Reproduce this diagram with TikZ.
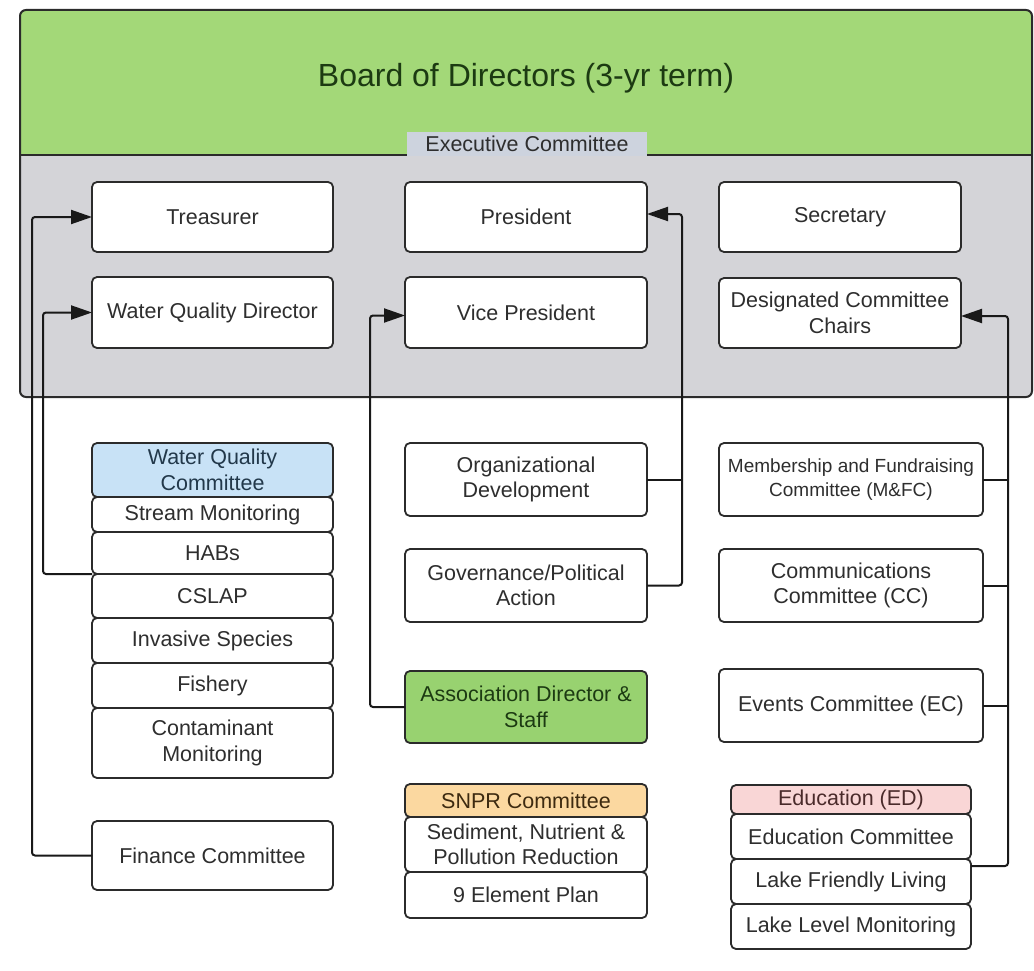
\documentclass[tikz,border=0pt]{standalone}
\usepackage{fontspec}
\setmainfont{Liberation Sans}
\usetikzlibrary{arrows.meta,calc}
\definecolor{boardgreen}{HTML}{A3D878}
\definecolor{adngreen}{HTML}{98D270}
\definecolor{execgray}{HTML}{D4D4D8}
\definecolor{execlabel}{HTML}{CDD3DE}
\definecolor{linecol}{HTML}{2B2B2B}
\definecolor{txt}{HTML}{2E2E2E}
\definecolor{dkgreen}{HTML}{1C3A12}
\definecolor{wqblue}{HTML}{C8E2F6}
\definecolor{wqtxt}{HTML}{22384A}
\definecolor{snprorange}{HTML}{FBD8A0}
\definecolor{snprtxt}{HTML}{3D2A10}
\definecolor{edpink}{HTML}{F9D6D6}
\definecolor{edtxt}{HTML}{4A2A2A}
\begin{document}
\begin{tikzpicture}[x=1pt,y=-1pt,
  box/.style={draw=linecol, line width=1.8pt, rounded corners=5pt, fill=white, align=center,
    text=txt, font=\fontsize{21.5}{25.5}\selectfont, inner sep=0pt, outer sep=0pt},
  col1/.style={box, minimum width=241pt},
  col2/.style={box, minimum width=242pt},
  col3/.style={box, minimum width=264pt},
  conn/.style={draw=black!90, line width=2pt, rounded corners=3pt, -{Triangle[length=21pt,width=14pt]}},
  link/.style={draw=black!90, line width=2pt},
]
\useasboundingbox (0,0) rectangle (1034,971);
\fill[white] (0,0) rectangle (1034,971);

% board container
\fill[boardgreen, rounded corners=6pt] (20,10) rectangle (1032,397);
\fill[execgray] (20,155) rectangle (1032,380);
\fill[execgray, rounded corners=6pt] (20,360) rectangle (1032,397);
\draw[linecol, line width=2pt, rounded corners=6pt] (20,10) rectangle (1032,397);
\draw[linecol, line width=2pt] (20,155) -- (407,155);
\draw[linecol, line width=2pt] (647,155) -- (1032,155);
\node[fill=execlabel, minimum width=240pt, minimum height=24pt, inner sep=0pt, text=txt,
  font=\fontsize{21.5}{25.5}\selectfont] (exec) at (527,144) {Executive Committee};
\node[text=dkgreen, font=\fontsize{32}{38}\selectfont, inner sep=0pt] (board) at (526,78) {Board of Directors (3-yr term)};

% executive members
\node[col1, minimum height=70pt] (treas) at (212.5,217) {Treasurer};
\node[col1, minimum height=71pt] (wqd) at (212.5,312.5) {Water Quality Director};
\node[col2, minimum height=70pt] (pres) at (526,217) {President};
\node[col2, minimum height=71pt] (vp) at (526,312.5) {Vice President};
\node[col2, minimum height=70pt] (sec) at (840,217) {Secretary};
\node[col2, minimum height=70pt] (dcc) at (840,313) {Designated Committee\\Chairs};

% water quality stack
\node[col1, minimum height=54pt, fill=wqblue, text=wqtxt] (wqh) at (212.5,470) {Water Quality\\Committee};
\node[col1, minimum height=35pt] (sm) at (212.5,514.5) {Stream Monitoring};
\node[col1, minimum height=42pt] (habs) at (212.5,553) {HABs};
\node[col1, minimum height=44pt] (cslap) at (212.5,596) {CSLAP};
\node[col1, minimum height=45pt] (inv) at (212.5,640.5) {Invasive Species};
\node[col1, minimum height=45pt] (fish) at (212.5,685.5) {Fishery};
\node[col1, minimum height=70pt] (cont) at (212.5,743) {Contaminant\\Monitoring};
\node[col1, minimum height=69pt] (fin) at (212.5,855.5) {Finance Committee};

% middle column
\node[col2, minimum height=73pt] (od) at (526,479.5) {Organizational\\Development};
\node[col2, minimum height=73pt] (gov) at (526,585.5) {Governance/Political\\Action};
\node[col2, minimum height=72pt, fill=adngreen, text=dkgreen] (adn) at (526,707) {Association Director \&\\Staff};
\node[col2, minimum height=33pt, fill=snprorange, text=snprtxt] (snh) at (526,800.5) {SNPR Committee};
\node[col2, minimum height=55pt] (sed) at (526,844.5) {Sediment, Nutrient \&\\Pollution Reduction};
\node[col2, minimum height=46pt] (nep) at (526,895) {9 Element Plan};

% right column
\node[col3, minimum height=73pt, font=\fontsize{19}{23.5}\selectfont] (mfc) at (851,479.5) {Membership and Fundraising\\Committee (M\&FC)};
\node[col3, minimum height=73pt] (cc) at (851,585.5) {Communications\\Committee (CC)};
\node[col3, minimum height=73pt] (ec) at (851,705.5) {Events Committee (EC)};
\node[box, minimum width=240pt, minimum height=29pt, fill=edpink, text=edtxt] (edh) at (851,799.5) {Education (ED)};
\node[box, minimum width=240pt, minimum height=45pt] (edc) at (851,836.5) {Education Committee};
\node[box, minimum width=240pt, minimum height=45pt] (lfl) at (851,881.5) {Lake Friendly Living};
\node[box, minimum width=240pt, minimum height=45pt] (llm) at (851,926.5) {Lake Level Monitoring};

% connectors
\coordinate (trunkR) at (1008,0);
\coordinate (edlink) at ($(lfl.north east)+(0,7)$);
\coordinate (dccin) at ($(dcc.east)+(0,3)$);
\coordinate (vpin) at ($(vp.west)+(0,3)$);
\coordinate (presin) at ($(pres.east)+(0,-3)$);
\draw[conn] (fin.west) -- ++(-60,0) |- (treas.west);
\draw[conn] (habs.south west) -- ++(-49,0) |- (wqd.west);
\draw[conn] (adn.west) -- ++(-35,0) |- (vpin);
\draw[conn] (gov.east) -- ++(35,0) |- (presin);
\draw[link] (od.east) -- ++(35,0);
\draw[conn] (edlink) -- (edlink -| trunkR) |- (dccin);
\draw[link] (mfc.east) -- (mfc.east -| trunkR);
\draw[link] (cc.east) -- (cc.east -| trunkR);
\draw[link] (ec.east) -- (ec.east -| trunkR);
\end{tikzpicture}
\end{document}
